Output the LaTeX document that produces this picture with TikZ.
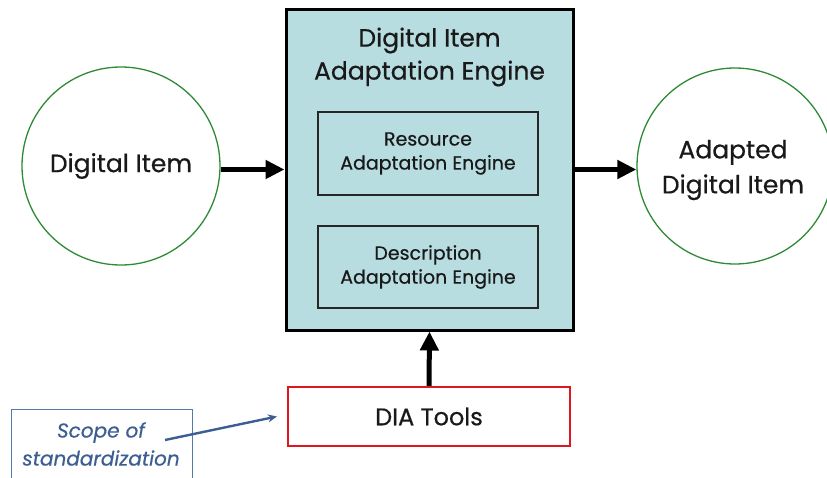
\documentclass[tikz,border=0pt]{standalone}
\usepackage{fontspec}
\setmainfont{Poppins}[FakeBold=0.5]
\usetikzlibrary{arrows.meta}
\definecolor{boxfill}{HTML}{B7DDE1}
\definecolor{circgreen}{HTML}{2F8A35}
\definecolor{diared}{HTML}{E0161E}
\definecolor{scopeblue}{HTML}{3D5E92}
\definecolor{scopeline}{HTML}{5479AE}
\begin{document}
\begin{tikzpicture}[x=1pt,y=-1pt,
  txt/.style 2 args={font=\fontsize{#1}{#2}\selectfont, text=black!90, align=center, inner sep=0pt},
  itemcirc/.style={circle, draw=circgreen, line width=1.3pt, fill=white},
  engine/.style={draw=black, line width=3pt, fill=boxfill},
  subbox/.style={draw=black!85, line width=1.4pt, fill=boxfill},
  toolbox/.style={draw=diared, line width=2.2pt, fill=white},
  flow/.style={line width=5pt, -{Triangle[length=19pt,width=18pt]}},
  scopearrow/.style={draw=scopeblue, line width=2.4pt, -{Stealth[length=9pt,width=8pt]}}
]
\useasboundingbox (0,0) rectangle (827,477);
% circles
\node[itemcirc, minimum size=198pt] (di) at (121,166) {};
\node[txt={25}{31}] at (di.center) {Digital Item};
\node[itemcirc, minimum size=196pt] (adi) at (735,166) {};
\node[txt={25}{35}] at (733,170) {Adapted\\Digital Item};
% engine
\node[engine, minimum width=287pt, minimum height=321pt] (die) at (429.5,169.5) {};
\node[txt={25}{33}] (dietitle) at (429.5,57) {Digital Item\\Adaptation Engine};
\node[subbox, minimum width=220pt, minimum height=83pt] (rae) at (428,153.5) {};
\node[txt={19}{24}] at (rae.center) {Resource\\Adaptation Engine};
\node[subbox, minimum width=220pt, minimum height=82pt] (dae) at (428,267) {};
\node[txt={19}{24}] at (dae.center) {Description\\Adaptation Engine};
% DIA tools
\node[toolbox, minimum width=282pt, minimum height=59pt] (dia) at (429,416.5) {};
\node[txt={24}{30}] at (dia.center) {DIA Tools};
% scope
\draw[scopeline, line width=1pt] (11,490) -- (11,409) -- (192,409) -- (192,490);
\node[txt={20}{28}, text=scopeblue, font=\fontsize{20}{28}\itshape\selectfont] (scope) at (101,444) {Scope of\\standardization};
\coordinate (sa) at (165,440);
\coordinate (sb) at ([xshift=-10pt]dia.west);
% connectors
\draw[flow] (di.east |- die.west) -- (die.west);
\draw[flow] (die.east) -- (die.east -| adi.west);
\draw[flow] (dia.north) -- (die.south);
\draw[scopearrow] (sa) -- (sb);
\end{tikzpicture}
\end{document}
